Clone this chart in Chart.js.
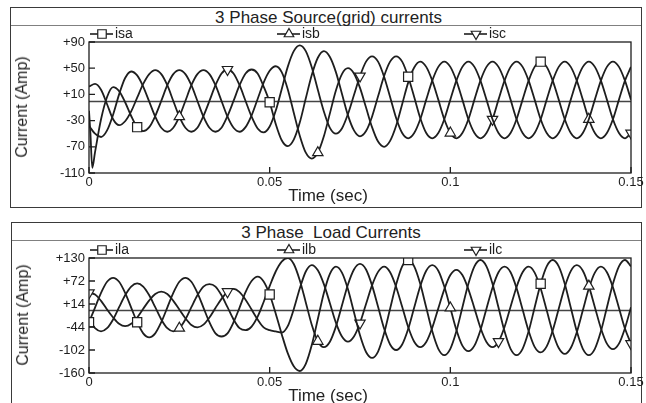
<!DOCTYPE html>
<html><head><meta charset="utf-8">
<script src="https://cdn.jsdelivr.net/npm/chart.js@4.4.1/dist/chart.umd.min.js"></script>
<style>
html,body{margin:0;padding:0;background:#fff}
body{width:646px;height:403px;overflow:hidden;position:relative;font-family:"Liberation Sans",Arial,sans-serif;color:#222}
.frame{position:absolute;border:1px solid #3a3a3a;box-sizing:border-box}
.sep{position:absolute;height:0;border-top:1px solid #808080}
.title{position:absolute;text-align:center;font-size:17px;line-height:17px;white-space:pre}
.xt{position:absolute;font-size:17px;line-height:17px;white-space:nowrap;transform:translateX(-50%)}
.yt{position:absolute;font-size:16px;line-height:16px;white-space:nowrap;transform:translate(-50%,-50%) rotate(-90deg)}
canvas{position:absolute}
</style></head>
<body>
<div class="frame" style="left:10px;top:7px;width:632px;height:201px"></div>
<div class="sep" style="left:11px;top:25px;width:630px"></div>
<div class="title" style="left:10px;top:9px;width:637px">3 Phase Source(grid) currents</div>
<canvas id="c1" width="635" height="181" style="left:11px;top:26px"></canvas>
<div class="yt" style="left:22px;top:107px">Current (Amp)</div>
<div class="xt" style="left:328px;top:187px">Time (sec)</div>

<div class="frame" style="left:11px;top:222px;width:631px;height:200px"></div>
<div class="sep" style="left:12px;top:240px;width:629px"></div>
<div class="title" style="left:10px;top:224px;width:642px">3 Phase  Load Currents</div>
<canvas id="c2" width="635" height="161" style="left:11px;top:242px"></canvas>
<div class="yt" style="left:23px;top:315px">Current (Amp)</div>
<div class="xt" style="left:328px;top:387px">Time (sec)</div>

<script>
// ---- time samples (s) ----
const timeSec = [0,0.00167,0.00333,0.005,0.00667,0.00833,0.01,0.01167,0.01333,0.015,
0.01667,0.01833,0.02,0.02167,0.02333,0.025,0.02667,0.02833,0.03,0.03167,
0.03333,0.035,0.03667,0.03833,0.04,0.04167,0.04333,0.045,0.04667,0.04833,
0.05,0.05167,0.05333,0.055,0.05667,0.05833,0.06,0.06167,0.06333,0.065,
0.06667,0.06833,0.07,0.07167,0.07333,0.075,0.07667,0.07833,0.08,0.08167,
0.08333,0.085,0.08667,0.08833,0.09,0.09167,0.09333,0.095,0.09667,0.09833,
0.1,0.10167,0.10333,0.105,0.10667,0.10833,0.11,0.11167,0.11333,0.115,
0.11667,0.11833,0.12,0.12167,0.12333,0.125,0.12667,0.12833,0.13,0.13167,
0.13333,0.135,0.13667,0.13833,0.14,0.14167,0.14333,0.145,0.14667,0.14833,0.15];

// ---- source (grid) currents, A ----
const isa = [-15,-78,-28,6,21,15,-2,-23,-40,-46,
-40,-23,0,24,41,47,41,24,0,-24,
-41,-47,-41,-23,0,24,42,48,42,22,
-2,-35,-60,-69,-59,-33,4,40,66,76,
67,44,11,-22,-45,-54,-46,-24,7,38,
60,68,60,37,6,-26,-49,-57,-49,-28,
2,31,52,60,52,31,2,-28,-49,-57,
-49,-28,2,31,52,60,52,31,2,-28,
-49,-57,-49,-28,2,31,52,60,52,31,
2];
const isaSpikeT = [0.0004, 0.0009];
const isaSpikeV = [-50, -102];
const isb = [-38,-50,-55,-45,-21,10,35,45,39,22,
-1,-24,-41,-47,-41,-24,0,24,41,47,
41,24,0,-24,-41,-47,-40,-22,3,28,
46,53,44,18,-18,-53,-79,-88,-79,-54,
-19,16,41,50,42,20,-10,-40,-62,-70,
-61,-38,-5,28,51,60,52,31,2,-28,
-49,-57,-49,-28,2,31,52,60,52,31,
2,-28,-49,-57,-49,-28,2,31,52,60,
52,31,2,-28,-49,-57,-49,-28,2,31,
52];
const isc = [22,26,17,-5,-28,-37,-31,-16,5,26,
41,47,41,24,0,-24,-41,-47,-41,-23,
0,24,42,48,42,24,0,-24,-42,-48,
-39,-15,18,52,76,85,76,51,17,-16,
-41,-50,-42,-20,9,38,60,68,60,37,
6,-26,-49,-57,-49,-28,2,31,52,60,
52,31,2,-28,-49,-57,-49,-28,2,31,
52,60,52,31,2,-28,-49,-57,-49,-28,
2,31,52,60,52,31,2,-28,-49,-57,
-49];

// ---- load currents, A ----
const ila = [-32,5,42,70,80,70,42,5,-32,-60,
-70,-60,-32,5,42,70,80,70,42,5,
-32,-60,-68,-60,-32,5,44,72,83,71,
38,-10,-62,-110,-143,-155,-137,-89,-24,42,
90,108,93,51,-7,-65,-107,-122,-106,-60,
2,63,109,125,109,65,5,-55,-99,-115,
-99,-55,5,65,109,125,109,65,5,-55,
-99,-115,-99,-55,5,65,109,125,109,65,
5,-55,-99,-115,-99,-55,5,65,109,125,
109];
const ilb = [-25,-47,-55,-47,-25,6,36,58,66,58,
36,6,-25,-47,-55,-47,-25,6,36,58,
64,58,36,6,-25,-47,-52,-43,-18,19,
59,96,121,130,115,74,18,-39,-80,-95,
-81,-43,10,63,101,115,101,61,7,-48,
-88,-102,-88,-49,5,59,98,112,98,58,
4,-51,-91,-105,-91,-52,2,55,94,108,
94,54,0,-54,-94,-108,-93,-53,2,57,
97,112,98,59,6,-47,-86,-100,-86,-47,
6];
const ilc = [42,38,22,0,-20,-36,-42,-36,-20,2,
23,39,45,39,22,0,-22,-39,-45,-38,
-20,4,27,45,52,44,25,0,-25,-45,
-52,-55,-58,-42,1,53,96,112,99,64,
16,-33,-68,-81,-68,-34,14,61,95,108,
94,57,7,-44,-81,-95,-82,-46,3,51,
87,100,87,51,3,-46,-82,-95,-81,-44,
7,57,94,108,93,53,-2,-57,-97,-112,
-97,-57,-2,53,93,108,94,56,4,-48,
-86];

// ---- marker sample indices ----
const isaMarks = [8,30,53,75], isbMarks = [15,38,60,83], iscMarks = [23,45,67,90];
const ilaMarks = [0,8,30,53,75], ilbMarks = [15,38,60,83], ilcMarks = [0,23,45,68,90];

// ---- axes / labels ----
const srcLabels = ['isa','isb','isc'];
const loadLabels = ['ila','ilb','ilc'];
const srcY = {min:-110, max:90, step:40};
const loadY = {min:-160, max:130, step:58};
const xAxis = {min:0, max:0.15, step:0.05};

const FONT = '"Liberation Sans", Arial, sans-serif';
const INK = '#1e1e1e';
const markerStyles = [
  {pointStyle:'rect', rot:0, r:6.5},
  {pointStyle:'triangle', rot:0, r:6},
  {pointStyle:'triangle', rot:180, r:6}
];

function buildPoints(vals, marks, extraT, extraV){
  const pts = timeSec.map((t,i)=>({x:t, y:vals[i], m:marks.includes(i)}));
  if (extraT){
    extraT.forEach((t,j)=>pts.push({x:t, y:extraV[j], m:false}));
    pts.sort((a,b)=>a.x-b.x);
  }
  return pts;
}

function dataset(label, pts, st){
  return {
    label, data:pts, borderColor:INK, borderWidth:1.8, fill:false,
    cubicInterpolationMode:'monotone',
    pointStyle:st.pointStyle, pointRotation:st.rot,
    pointRadius: c => (c.raw && c.raw.m) ? st.r : 0,
    pointHoverRadius: 0,
    pointBorderWidth:1.2, pointBorderColor:INK, pointBackgroundColor:'#fff'
  };
}

const framePlugin = {
  id:'frame',
  beforeDatasetsDraw(chart){
    const {ctx, chartArea:a, scales:{y}} = chart;
    const y0 = Math.round(y.getPixelForValue(0)) + 0.5;
    ctx.save(); ctx.strokeStyle='#444'; ctx.lineWidth=1.4;
    ctx.beginPath(); ctx.moveTo(a.left,y0); ctx.lineTo(a.right,y0); ctx.stroke();
    ctx.restore();
  },
  afterDatasetsDraw(chart){
    const {ctx, chartArea:a, scales:{x,y}} = chart;
    ctx.save(); ctx.strokeStyle=INK; ctx.lineWidth=1.3;
    ctx.strokeRect(a.left, a.top, a.right-a.left, a.bottom-a.top);
    ctx.beginPath();
    y.ticks.forEach(t=>{const p=y.getPixelForValue(t.value); ctx.moveTo(a.left,p); ctx.lineTo(a.left+6,p);});
    x.ticks.forEach(t=>{const p=x.getPixelForValue(t.value); ctx.moveTo(p,a.bottom); ctx.lineTo(p,a.bottom-6);});
    ctx.stroke(); ctx.restore();
  }
};

const legendPlugin = {
  id:'lineLegend',
  afterDraw(chart){
    const {ctx, chartArea:a} = chart;
    const y = a.top - 8;
    chart.data.datasets.forEach((ds,i)=>{
      const st = markerStyles[i];
      const x0 = a.left + 1 + i*187;
      ctx.save();
      ctx.strokeStyle=INK; ctx.lineWidth=1.6;
      ctx.beginPath(); ctx.moveTo(x0,y); ctx.lineTo(x0+23,y); ctx.stroke();
      ctx.fillStyle='#fff'; ctx.lineWidth=1.2;
      Chart.helpers.drawPoint(ctx, {pointStyle:st.pointStyle, rotation:st.rot, radius:st.r-0.5, borderWidth:1.2}, x0+12, y);
      ctx.fillStyle=INK; ctx.font='14px '+FONT; ctx.textBaseline='middle'; ctx.textAlign='left';
      ctx.fillText(ds.label, x0+25, y+0.5);
      ctx.restore();
    });
  }
};

function makeChart(id, labels, series, marks, yCfg, xAxisH, extra){
  const datasets = series.map((v,i)=>dataset(labels[i],
    buildPoints(v, marks[i], (extra && i===0)?extra.t:null, (extra && i===0)?extra.v:null),
    markerStyles[i]));
  return new Chart(document.getElementById(id), {
    type:'line',
    data:{datasets},
    options:{
      responsive:false, animation:false, events:[],
      layout:{padding:{top:16,right:15,left:0,bottom:0}},
      plugins:{legend:{display:false}, tooltip:{enabled:false}},
      scales:{
        x:{type:'linear', min:xAxis.min, max:xAxis.max,
          ticks:{stepSize:xAxis.step, autoSkip:false, maxRotation:0, padding:2, color:INK,
                 font:{family:FONT,size:13}, callback:v=>String(Math.round(v*100)/100)},
          grid:{display:false, drawTicks:false}, border:{display:false},
          afterFit:s=>{s.height=xAxisH;}},
        y:{type:'linear', min:yCfg.min, max:yCfg.max,
          ticks:{stepSize:yCfg.step, padding:4, color:INK, font:{family:FONT,size:13},
                 callback:v=> v>0 ? '+'+v : String(v)},
          grid:{display:false, drawTicks:false}, border:{display:false},
          afterFit:s=>{s.width=78;}}
      }
    },
    plugins:[framePlugin, legendPlugin]
  });
}

makeChart('c1', srcLabels, [isa,isb,isc], [isaMarks,isbMarks,iscMarks], srcY, 34, {t:isaSpikeT, v:isaSpikeV});
makeChart('c2', loadLabels, [ila,ilb,ilc], [ilaMarks,ilbMarks,ilcMarks], loadY, 30, null);
</script>
</body></html>
